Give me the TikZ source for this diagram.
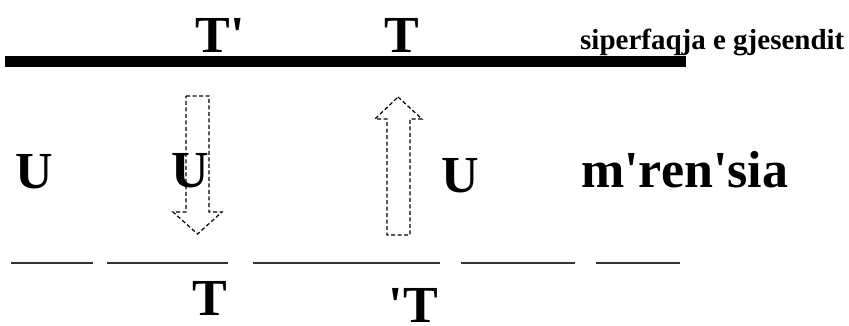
\documentclass[tikz,border=0pt]{standalone}
\usepackage{fontspec}
\setmainfont{Liberation Serif}
\usetikzlibrary{positioning}
\tikzset{
  bigletter/.style={font=\fontsize{52}{52}\selectfont\bfseries, inner sep=0pt, anchor=base},
  surflabel/.style={font=\fontsize{29}{29}\selectfont\bfseries, inner sep=0pt, anchor=base west},
  flowarrow/.style={draw=black, line width=1.2pt, dash pattern=on 4pt off 2.5pt, line join=miter},
  seg/.style={draw=black!80, line width=1.8pt}
}

\begin{document}
\begin{tikzpicture}[x=1pt, y=-1pt]
\useasboundingbox (0,0) rectangle (849,326);
\draw[line width=11pt] (5,61.5) -- (686,61.5);
\node[bigletter] (tp) at (220.5,53) {T\textquotesingle};
\node[bigletter] (tt) at (401.5,53) {T};
\node[surflabel] (surf) at (580,50) {siperfaqja e gjesendit};
\draw[flowarrow] (186,96) -- (209,96) -- (209,212) -- (222,212) -- (197.5,234) -- (173,212) -- (186,212) -- cycle;
\draw[flowarrow] (398,97) -- (422,119) -- (410,119) -- (410,235) -- (387,235) -- (387,119) -- (375,119) -- cycle;
\node[bigletter] (u1) at (34,189) {U};
\node[bigletter] (u2) at (190,187) {U};
\node[bigletter] (u3) at (460.5,193) {U};
\node[bigletter, anchor=base west] (layer) at (581,187) {m\textquotesingle ren\textquotesingle sia};
\foreach \a/\b in {11/93, 107/228, 253/440, 461/575, 596/680}
  \draw[seg] (\a,263) -- (\b,263);
\node[bigletter] (tb) at (210,315) {T};
\node[bigletter] (pt) at (413.5,322) {\textquotesingle T};
\end{tikzpicture}
\end{document}
